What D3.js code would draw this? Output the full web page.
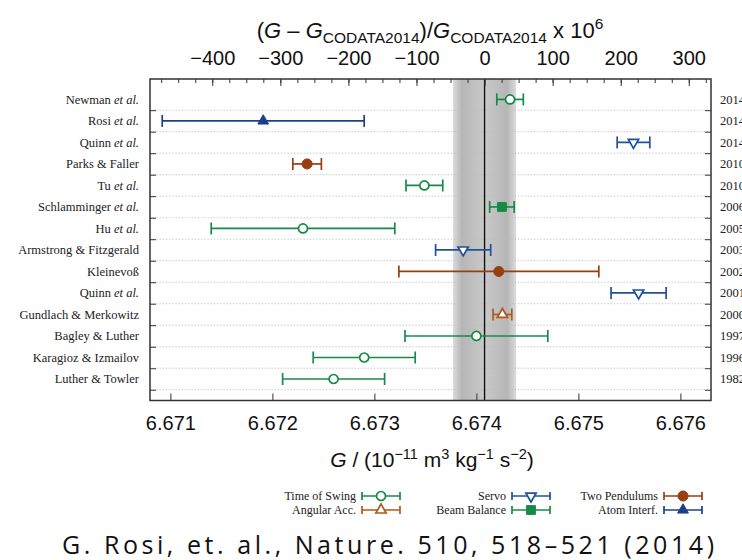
<!DOCTYPE html>
<html>
<head>
<meta charset="utf-8">
<script src="https://cdn.jsdelivr.net/npm/d3@7"></script>
<style>
  body { margin: 0; background: #fff; }
  svg { display: block; }
</style>
</head>
<body>
<svg id="chart" width="742" height="560"></svg>
<script>
// Measurements of Newton's gravitational constant, newest first
const authors = ["Newman", "Rosi", "Quinn", "Parks & Faller", "Tu", "Schlamminger", "Hu",
  "Armstrong & Fitzgerald", "Kleinevoß", "Quinn", "Gundlach & Merkowitz", "Bagley & Luther",
  "Karagioz & Izmailov", "Luther & Towler"];
const hasEtAl = [true, true, true, false, true, true, true, false, false, true, false, false, false, false];
const years = ["2014", "2014", "2014", "2010", "2010", "2006", "2005", "2003", "2002", "2001", "2000", "1997", "1996", "1982"];
const gValues = [6.67433, 6.67191, 6.67554, 6.67234, 6.67349, 6.67425, 6.6723, 6.67387, 6.67422, 6.67559, 6.674255, 6.6740, 6.6729, 6.6726];
const gErrors = [0.00013, 0.00099, 0.00016, 0.00014, 0.00018, 0.00012, 0.0009, 0.00027, 0.00098, 0.00027, 0.000092, 0.0007, 0.0005, 0.0005];
const methods = ["swing", "atom", "servo", "pendulums", "swing", "beam", "swing", "servo", "pendulums", "servo", "angular", "swing", "swing", "swing"];

// CODATA 2014 recommended value and its standard uncertainty
const codataG = 6.67408;
const codataErr = 0.00031;

const bottomTicks = [6.671, 6.672, 6.673, 6.674, 6.675, 6.676];
const topTicks = [-400, -300, -200, -100, 0, 100, 200, 300];

// Legend: three columns of two entries
const legendKeys = ["swing", "angular", "servo", "beam", "pendulums", "atom"];
const legendNames = ["Time of Swing", "Angular Acc.", "Servo", "Beam Balance", "Two Pendulums", "Atom Interf."];

const methodStyle = {
  swing:     { color: "#178a48", shape: d3.symbolCircle,   size: 64, open: true,  rotate: 0 },
  angular:   { color: "#ad5a1c", shape: d3.symbolTriangle, size: 46, open: true,  rotate: 0 },
  servo:     { color: "#21509c", shape: d3.symbolTriangle, size: 46, open: true,  rotate: 180 },
  beam:      { color: "#178a48", shape: d3.symbolSquare,   size: 78, open: false, rotate: 0 },
  pendulums: { color: "#973f10", shape: d3.symbolCircle,   size: 80, open: false, rotate: 0 },
  atom:      { color: "#1c3f8c", shape: d3.symbolTriangle, size: 50, open: false, rotate: 0 }
};

const svg = d3.select("#chart");
svg.append("rect").attr("width", 742).attr("height", 560).attr("fill", "#fff");

const frame = { left: 150, right: 711, top: 79, bottom: 400.5 };
const x = d3.scaleLinear().domain([6.6708, 6.6763]).range([frame.left, frame.right]);
const toPpm = g => (g - codataG) / codataG * 1e6;
const ppm = d3.scaleLinear().domain(x.domain().map(toPpm)).range(x.range());
const y = d3.scaleLinear().domain([-0.95, 14]).range([frame.top, frame.bottom]);

const rows = d3.range(authors.length);
const gridRows = rows.map(i => i + 0.5);

// Uncertainty band of the CODATA value
const defs = svg.append("defs");
const grad = defs.append("linearGradient").attr("id", "bandGrad")
  .attr("x1", "0%").attr("x2", "100%").attr("y1", "0%").attr("y2", "0%");
[[0, "#dcdcdc"], [0.14, "#b6b6b6"], [0.44, "#c6c6c6"], [0.5, "#cacaca"], [0.56, "#c6c6c6"], [0.86, "#b6b6b6"], [1, "#dcdcdc"]]
  .forEach(([o, c]) => grad.append("stop").attr("offset", o).attr("stop-color", c));

svg.append("rect")
  .attr("x", x(codataG - codataErr))
  .attr("width", x(codataG + codataErr) - x(codataG - codataErr))
  .attr("y", frame.top).attr("height", frame.bottom - frame.top)
  .attr("fill", "url(#bandGrad)");

// Dotted separators between rows
svg.append("g").selectAll("line").data(gridRows).join("line")
  .attr("x1", frame.left).attr("x2", frame.right)
  .attr("y1", d => y(d)).attr("y2", d => y(d))
  .attr("stroke", "#bdbdbd").attr("stroke-width", 1).attr("stroke-dasharray", "1.2,2");

// CODATA value line
svg.append("line")
  .attr("x1", x(codataG)).attr("x2", x(codataG))
  .attr("y1", frame.top).attr("y2", frame.bottom)
  .attr("stroke", "#111").attr("stroke-width", 1.4);

// Axes
const axisFont = "'Liberation Sans', Arial, Helvetica, sans-serif";
const styleAxis = g => {
  g.select(".domain").remove();
  g.selectAll(".tick line").attr("stroke", "#333").attr("stroke-width", 1);
  g.selectAll(".tick text").attr("fill", "#111").attr("font-family", axisFont);
};

const minorG = d3.range(67208, 67630).map(v => v / 10000);
svg.append("g").attr("transform", `translate(0,${frame.bottom})`)
  .call(d3.axisBottom(x).tickValues(minorG).tickSize(-4).tickFormat(""))
  .call(styleAxis);
svg.append("g").attr("transform", `translate(0,${frame.bottom})`)
  .call(d3.axisBottom(x).tickValues(bottomTicks).tickSize(-7).tickPadding(15).tickFormat(d3.format(".3f")))
  .call(styleAxis)
  .call(g => g.selectAll(".tick text").attr("font-size", 20));

const minorPpm = d3.range(-475, 326, 25);
svg.append("g").attr("transform", `translate(0,${frame.top})`)
  .call(d3.axisTop(ppm).tickValues(minorPpm).tickSize(-4).tickFormat(""))
  .call(styleAxis);
svg.append("g").attr("transform", `translate(0,${frame.top})`)
  .call(d3.axisTop(ppm).tickValues(topTicks).tickSize(-7).tickPadding(14).tickFormat(d3.format("d")))
  .call(styleAxis)
  .call(g => g.selectAll(".tick text").attr("font-size", 20));

svg.append("g").attr("transform", `translate(${frame.left},0)`)
  .call(d3.axisLeft(y).tickValues(gridRows).tickSize(-6).tickFormat(""))
  .call(styleAxis);
svg.append("g").attr("transform", `translate(${frame.right},0)`)
  .call(d3.axisRight(y).tickValues(gridRows).tickSize(-6).tickFormat(""))
  .call(styleAxis);

// Frame
svg.append("rect")
  .attr("x", frame.left).attr("y", frame.top)
  .attr("width", frame.right - frame.left).attr("height", frame.bottom - frame.top)
  .attr("fill", "none").attr("stroke", "#333").attr("stroke-width", 1.5);

// Axis titles
const topTitle = svg.append("text")
  .attr("x", 430).attr("y", 38).attr("text-anchor", "middle")
  .attr("font-family", axisFont).attr("font-size", 22).attr("fill", "#111");
topTitle.append("tspan").text("(");
topTitle.append("tspan").attr("font-style", "italic").text("G");
topTitle.append("tspan").text(" \u2013 ");
topTitle.append("tspan").attr("font-style", "italic").text("G");
topTitle.append("tspan").attr("font-size", 15.5).attr("dy", 5).text("CODATA2014");
topTitle.append("tspan").attr("dy", -5).text(")/");
topTitle.append("tspan").attr("font-style", "italic").text("G");
topTitle.append("tspan").attr("font-size", 15.5).attr("dy", 5).text("CODATA2014");
topTitle.append("tspan").attr("dy", -5).text(" x 10");
topTitle.append("tspan").attr("font-size", 15.5).attr("dy", -9).text("6");

const bottomTitle = svg.append("text")
  .attr("x", 432).attr("y", 467).attr("text-anchor", "middle")
  .attr("font-family", axisFont).attr("font-size", 21).attr("fill", "#111");
bottomTitle.append("tspan").attr("font-style", "italic").text("G");
bottomTitle.append("tspan").text(" / (10");
bottomTitle.append("tspan").attr("font-size", 14.5).attr("dy", -8).text("\u221211");
bottomTitle.append("tspan").attr("dy", 8).text(" m");
bottomTitle.append("tspan").attr("font-size", 14.5).attr("dy", -8).text("3");
bottomTitle.append("tspan").attr("dy", 8).text(" kg");
bottomTitle.append("tspan").attr("font-size", 14.5).attr("dy", -8).text("\u22121");
bottomTitle.append("tspan").attr("dy", 8).text(" s");
bottomTitle.append("tspan").attr("font-size", 14.5).attr("dy", -8).text("\u22122");
bottomTitle.append("tspan").attr("dy", 8).text(")");

// Row labels and years
const serif = "'Liberation Serif', 'Times New Roman', serif";
const labels = svg.append("g").attr("font-family", serif).attr("font-size", 12.5).attr("fill", "#222");
rows.forEach(i => {
  const t = labels.append("text").attr("x", 139).attr("y", y(i)).attr("dy", "0.35em").attr("text-anchor", "end");
  t.append("tspan").text(authors[i]);
  if (hasEtAl[i]) t.append("tspan").attr("font-style", "italic").text(" et al.");
  labels.append("text").attr("x", 720).attr("y", y(i)).attr("dy", "0.35em").text(years[i]);
});

// Error bar with marker
function drawBar(g, cx0, cx1, cy, key, cap) {
  const s = methodStyle[key];
  g.append("line").attr("x1", cx0).attr("x2", cx1).attr("y1", cy).attr("y2", cy)
    .attr("stroke", s.color).attr("stroke-width", 1.7);
  [cx0, cx1].forEach(cx => g.append("line")
    .attr("x1", cx).attr("x2", cx).attr("y1", cy - cap / 2).attr("y2", cy + cap / 2)
    .attr("stroke", s.color).attr("stroke-width", 1.7));
}
function drawMarker(g, cx, cy, key) {
  const s = methodStyle[key];
  g.append("path")
    .attr("d", d3.symbol(s.shape, s.size)())
    .attr("transform", `translate(${cx},${cy}) rotate(${s.rotate})`)
    .attr("fill", s.open ? "#fff" : s.color)
    .attr("stroke", s.color).attr("stroke-width", s.open ? 1.7 : 1);
}

const marks = svg.append("g");
rows.forEach(i => {
  drawBar(marks, x(gValues[i] - gErrors[i]), x(gValues[i] + gErrors[i]), y(i), methods[i], 12);
  drawMarker(marks, x(gValues[i]), y(i), methods[i]);
});

// Legend
const legend = svg.append("g").attr("font-family", serif).attr("font-size", 12).attr("fill", "#222");
const colEnds = [356, 506, 658];
const rowYs = [496, 510];
legendKeys.forEach((key, k) => {
  const col = Math.floor(k / 2), row = k % 2;
  const tx = colEnds[col], ty = rowYs[row];
  legend.append("text").attr("x", tx).attr("y", ty).attr("dy", "0.35em").attr("text-anchor", "end").text(legendNames[k]);
  drawBar(legend, tx + 6, tx + 44, ty, key, 8);
  drawMarker(legend, tx + 25, ty, key);
});

// Source line
svg.append("text")
  .attr("x", 62).attr("y", 554)
  .attr("textLength", 652).attr("lengthAdjust", "spacing")
  .attr("font-family", "'Open Sans', 'Noto Sans', sans-serif").attr("font-size", 25).attr("fill", "#111")
  .text("G. Rosi, et. al., Nature. 510, 518\u2013521 (2014)");
</script>
</body>
</html>
